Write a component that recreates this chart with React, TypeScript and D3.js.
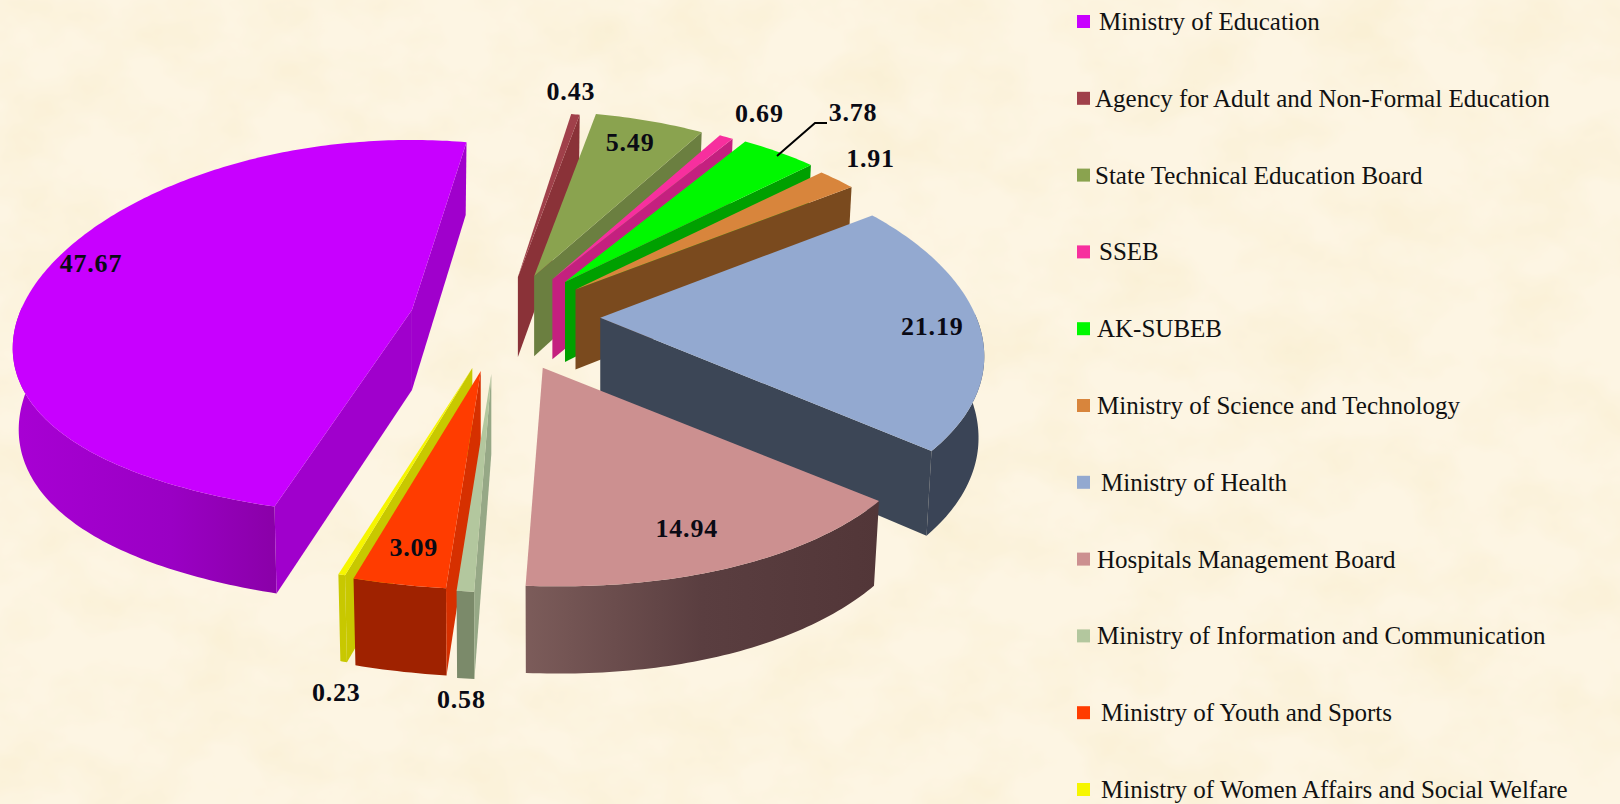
import React from "react";
import * as d3 from "d3";

const categories = [
  "Ministry of Education",
  "Agency for Adult and Non-Formal Education",
  "State Technical Education Board",
  "SSEB",
  "AK-SUBEB",
  "Ministry of Science and Technology",
  "Ministry of Health",
  "Hospitals Management Board",
  "Ministry of Information and Communication",
  "Ministry of Youth and Sports",
  "Ministry of Women Affairs and Social Welfare",
];
const values = [47.67, 0.43, 5.49, 0.69, 3.78, 1.91, 21.19, 14.94, 0.58, 3.09, 0.23];
const valueLabels = ["47.67", "0.43", "5.49", "0.69", "3.78", "1.91", "21.19", "14.94", "0.58", "3.09", "0.23"];

const topColors = ["#C800FF", "#A0404A", "#8AA34F", "#F72F9E", "#00F800", "#D8853C", "#93A9D0", "#CC9090", "#B3C79E", "#FF3C00", "#F6F600"];
const radialWallColors = ["#A000CC", "#8A3238", "#6B7F40", "#C4207F", "#00A000", "#7A4A1E", "#3C4656", "#52383A", "#96A886", "#D63000", "#C8C800"];
const outerWallColors = ["url(#eduWall)", "#8A3238", "#6B7F40", "#C4207F", "#00A000", "#7A4A1E", "#3A4456", "url(#hospWall)", "#7B8A6A", "#9F2200", "#C8C800"];
const legendColors = ["#C800FF", "#A0404A", "#8AA34F", "#F72F9E", "#00F800", "#D8853C", "#93A9D0", "#CC9090", "#B3C79E", "#FF3C00", "#F6F600"];

// layout
const W = 1620, H = 804;
const CX = 500, CY = 325;
const RX = 382, RY = 188, KX = 0.2;
const KY = [0.1, 0.14, 0.14, 0.14, 0.14, 0.14, 0.14, 0.14, 0.14, 0.14, 0.14];
const scaleX = [1.024, 1, 1, 1, 1, 1, 0.985, 1, 1, 1, 1];
const scaleY = [0.995, 1, 1, 1, 1, 1, 1, 1, 1, 1, 1];
const SKEW = 16;
const DEPTH = 80;
const START = (198 * Math.PI) / 180;
const explode = [0.267, 0.26, 0.278, 0.287, 0.3, 0.297, 0.26, 0.247, 0.26, 0.25, 0.24];
const nudgeX = [11, 0, -4, -6, -9, -12, 1, 6, 0, 0, 0];
const nudgeY = [-3, 0, 0, 0, 0, 0, -9, 0, 0, 0, 0];
const paintOrder = [0, 1, 2, 3, 4, 5, 6, 10, 9, 8, 7];
const labelDX = [-321, 53, 96, 207, 288, 295, 332, 144, -30, -67, -136];
const labelDY = [-47, -185, -134, -166, -169, -131, 9, 161, 326, 176, 324];
const legendTextX = [1099, 1095, 1095, 1099, 1097, 1097, 1101, 1097, 1097, 1101, 1101];

const legendY = d3.scaleLinear().domain([0, 10]).range([22, 790]);
const FONT = "'Liberation Serif', 'Times New Roman', serif";

const arcs = d3.pie<number>().sort(null).startAngle(START).endAngle(START + 2 * Math.PI)(values);

const proj = (i: number, t: number): [number, number] => [
  (scaleX[i] * RX * Math.sin(t)) / (1 + KX * Math.cos(t)) + SKEW * Math.pow(Math.max(0, -Math.cos(t)), 6),
  (-scaleY[i] * RY * Math.cos(t)) / (1 + KY[i] * Math.cos(t)),
];
const lift = (p: [number, number], t: number): [number, number] => [
  p[0] * 0.985,
  p[1] + DEPTH * (1 - 0.09 * Math.cos(t)),
];
const poly = d3.line<[number, number]>().curve(d3.curveLinear);

function slicePaths(i: number) {
  const a = arcs[i];
  const mid = (a.startAngle + a.endAngle) / 2;
  const e = explode[i];
  const ax = CX + e * RX * Math.sin(mid) + nudgeX[i];
  const ay = CY - e * RY * Math.cos(mid) + nudgeY[i];
  const move = (p: [number, number]): [number, number] => [ax + p[0], ay + p[1]];
  const n = Math.max(4, Math.ceil((a.endAngle - a.startAngle) / 0.015));
  const ts = d3.range(n + 1).map((k) => a.startAngle + ((a.endAngle - a.startAngle) * k) / n);
  const top = [[ax, ay] as [number, number], ...ts.map((t) => move(proj(i, t)))];
  const front = ts.filter((t) => Math.cos(t) < 0.02);
  const outer = front.length > 1
    ? [...front.map((t) => move(proj(i, t))), ...[...front].reverse().map((t) => move(lift(proj(i, t), t)))]
    : null;
  const radial = (t: number) => [
    [ax, ay] as [number, number],
    move(proj(i, t)),
    move(lift(proj(i, t), t)),
    [ax, ay + DEPTH] as [number, number],
  ];
  const walls: [number, number][][] = [];
  if (Math.sin(a.startAngle) < 0) walls.push(radial(a.startAngle));
  if (Math.sin(a.endAngle) > 0) walls.push(radial(a.endAngle));
  return { ax, ay, top, outer, walls };
}

export default function App() {
  return (
    <svg
      width={W}
      height={H}
      viewBox={`0 0 ${W} ${H}`}
      style={{ position: "fixed", left: 0, top: 0, display: "block" }}
    >
      <defs>
        <filter id="parchment" x="0" y="0" width="100%" height="100%">
          <feTurbulence type="fractalNoise" baseFrequency="0.012 0.016" numOctaves="4" seed="7" />
          <feColorMatrix type="matrix" values="0 0 0 0 0.95  0 0 0 0 0.86  0 0 0 0 0.64  1.5 0 0 0 -0.55" />
        </filter>
        <linearGradient id="eduWall" x1="0" x2="1" y1="0" y2="0">
          <stop offset="0" stopColor="#A800D4" />
          <stop offset="0.6" stopColor="#9A00C4" />
          <stop offset="1" stopColor="#8A00A8" />
        </linearGradient>
        <linearGradient id="hospWall" x1="0" x2="1" y1="0" y2="0">
          <stop offset="0" stopColor="#7C5C5A" />
          <stop offset="0.5" stopColor="#5A3E40" />
          <stop offset="1" stopColor="#523638" />
        </linearGradient>
      </defs>
      <rect width={W} height={H} fill="#FDF5E3" />
      <rect width={W} height={H} filter="url(#parchment)" />

      {paintOrder.map((i) => {
        const s = slicePaths(i);
        return (
          <g key={categories[i]}>
            {s.outer && <path d={poly(s.outer) + "Z"} fill={outerWallColors[i]} />}
            {s.walls.map((w, k) => (
              <path key={k} d={poly(w) + "Z"} fill={radialWallColors[i]} />
            ))}
            <path d={poly(s.top) + "Z"} fill={topColors[i]} />
          </g>
        );
      })}

      <path d="M777,156 L815,123 L827,123" fill="none" stroke="#000" strokeWidth={2} />

      {paintOrder.map((i) => {
        const s = slicePaths(i);
        return (
          <text
            key={i}
            x={s.ax + labelDX[i]}
            y={s.ay + labelDY[i]}
            textAnchor="middle"
            dominantBaseline="central"
            fontFamily={FONT}
            fontWeight="bold"
            fontSize={26}
            letterSpacing={0.8}
            fill="#0A0A14"
          >
            {valueLabels[i]}
          </text>
        );
      })}

      {categories.map((c, i) => (
        <g key={c}>
          <rect x={1077} y={legendY(i) - 7} width={13} height={13} fill={legendColors[i]} />
          <text x={legendTextX[i]} y={legendY(i) + 8} fontFamily={FONT} fontSize={25} fill="#111">
            {c}
          </text>
        </g>
      ))}
    </svg>
  );
}
